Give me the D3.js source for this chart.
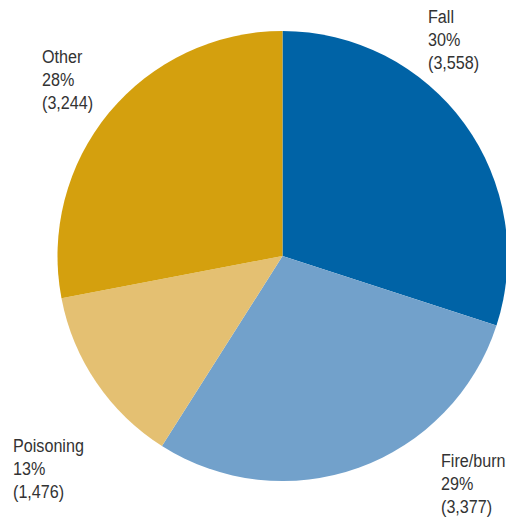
<!DOCTYPE html>
<html><head><meta charset="utf-8">
<script src="https://cdn.jsdelivr.net/npm/d3@7"></script>
<style>html,body{margin:0;padding:0;background:#fff;}</style>
</head><body>
<svg id="c" width="506" height="518"></svg>
<script>
const categories = ["Fall", "Fire/burn", "Poisoning", "Other"];
const counts = [3558, 3377, 1476, 3244];
const percents = [30, 29, 13, 28];
const colors = ["#0063a6", "#72a1cb", "#e4c072", "#d4a00e"];
// label anchor positions (layout)
const labelPos = [[428, 23], [441, 467], [13, 452], [42, 63]];

const svg = d3.select("#c");
const cx = 282.5, cy = 256, r = 225;
const g = svg.append("g").attr("transform", `translate(${cx},${cy})`);
const pie = d3.pie().sort(null).value(d => d)(percents);
const arc = d3.arc().innerRadius(0).outerRadius(r);
const color = d3.scaleOrdinal().domain(categories).range(colors);
g.selectAll("path").data(pie).join("path")
  .attr("d", arc)
  .attr("fill", (d, i) => color(categories[i]));

const fmt = d3.format(",");
const sx = 0.85;
categories.forEach((c, i) => {
  const t = svg.append("text")
    .attr("transform", `translate(${labelPos[i][0]},${labelPos[i][1]}) scale(${sx},1)`)
    .attr("font-family", "'Liberation Sans Narrow','Arial Narrow','Liberation Sans',Arial,sans-serif")
    .attr("font-size", 19).attr("fill", "#333");
  [c, percents[i] + "%", "(" + fmt(counts[i]) + ")"].forEach((s, j) => {
    t.append("tspan").attr("x", 0).attr("dy", j === 0 ? 0 : 23).text(s);
  });
});
</script>
</body></html>
